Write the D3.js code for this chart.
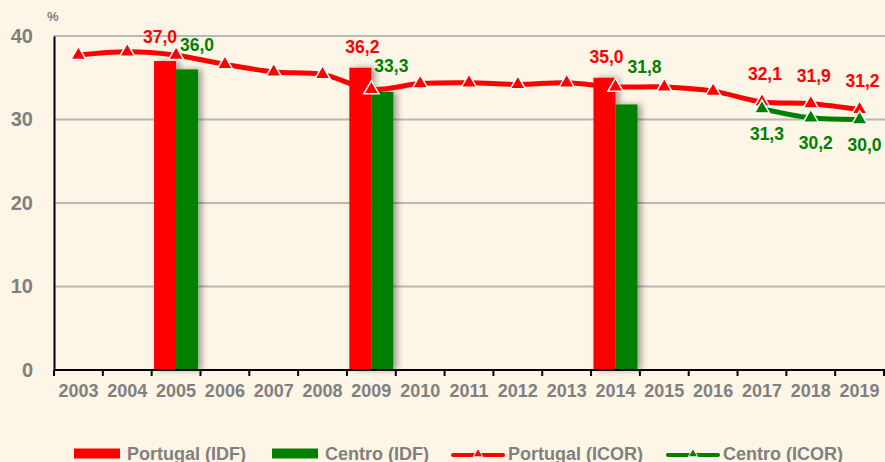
<!DOCTYPE html>
<html>
<head>
<meta charset="utf-8">
<script src="https://cdn.jsdelivr.net/npm/d3@7"></script>
<style>
  html, body { margin: 0; padding: 0; background: #fdf5e6; }
  svg { display: block; font-family: "Liberation Sans", Arial, sans-serif; font-weight: bold; }
</style>
</head>
<body>
<svg id="chart" width="885" height="462"></svg>
<script>
// Years on the horizontal axis
const years = ["2003","2004","2005","2006","2007","2008","2009","2010","2011",
               "2012","2013","2014","2015","2016","2017","2018","2019"];

// IDF survey (bars), only some years
const idfYears = ["2005", "2009", "2014"];
const idfPortugal = [37.0, 36.2, 35.0];
const idfCentro = [36.0, 33.3, 31.8];

// ICOR survey (lines)
const icorPortugal = [37.7, 38.1, 37.7, 36.6, 35.7, 35.4, 33.6, 34.3, 34.4,
                      34.2, 34.4, 33.9, 33.9, 33.4, 32.1, 31.9, 31.2];
const icorCentroYears = ["2017", "2018", "2019"];
const icorCentro = [31.3, 30.2, 30.0];

// Which ICOR points carry a value label
const labelledPortugalYears = ["2017", "2018", "2019"];

const yTicks = [0, 10, 20, 30, 40];

// Hand-placed nudges for the bar value labels so they clear the line
const ptLabelNudge = [[-5, -18], [2, -15], [2, -15]];
const ceLabelNudge = [[10, -18], [9, -20], [18, -31]];

const RED = "#ff0000", GREEN = "#008000", GREY = "#808080";

const svg = d3.select("#chart");
const margin = { left: 54, right: 1, top: 36, bottom: 92 };
const W = 885, H = 462;

const x = d3.scaleBand().domain(years).range([margin.left, W - margin.right]).padding(0);
const y = d3.scaleLinear().domain([0, 40]).range([H - margin.bottom, margin.top]);
const inner = d3.scaleBand().domain(["pt", "ce"]).range([0, x.bandwidth()])
  .paddingInner(0).paddingOuter(0.11);

const defs = svg.append("defs");
const shadow = defs.append("filter").attr("id", "barShadow")
  .attr("x", "-20%").attr("y", "-5%").attr("width", "160%").attr("height", "110%");
shadow.append("feDropShadow").attr("dx", 4).attr("dy", 0)
  .attr("stdDeviation", 3).attr("flood-color", "#000").attr("flood-opacity", 0.35);

// Horizontal grid lines
svg.append("g").selectAll("line")
  .data(yTicks.filter(d => d > 0)).join("line")
  .attr("x1", margin.left).attr("x2", W)
  .attr("y1", d => y(d)).attr("y2", d => y(d))
  .attr("stroke", "#b8b8b8").attr("stroke-width", 2);

// Bars
const idf = idfYears.map((yr, i) => ({ year: yr, pt: idfPortugal[i], ce: idfCentro[i], i }));
const barGroups = svg.append("g").selectAll("g").data(idf).join("g")
  .attr("filter", "url(#barShadow)");
barGroups.append("rect")
  .attr("x", d => x(d.year) + inner("pt")).attr("width", inner.bandwidth())
  .attr("y", d => y(d.pt)).attr("height", d => y(0) - y(d.pt))
  .attr("fill", RED);
barGroups.append("rect")
  .attr("x", d => x(d.year) + inner("ce")).attr("width", inner.bandwidth())
  .attr("y", d => y(d.ce)).attr("height", d => y(0) - y(d.ce))
  .attr("fill", GREEN);

// Y axis
const yAxis = svg.append("g").attr("transform", `translate(${margin.left},0)`)
  .call(d3.axisLeft(y).tickValues(yTicks).tickSize(0).tickPadding(21));
yAxis.select(".domain").attr("stroke", "#000").attr("stroke-width", 2);
yAxis.selectAll("text").attr("font-size", 20).attr("fill", GREY)
  .attr("font-family", "Liberation Sans, Arial, sans-serif").attr("font-weight", "bold");

svg.append("text").attr("x", 47).attr("y", 21).attr("font-size", 13)
  .attr("fill", GREY).text("%");

// X axis: labels centred in each band, ticks on the band edges
const xAxis = svg.append("g").attr("transform", `translate(0,${y(0)})`)
  .call(d3.axisBottom(x).tickSize(0).tickPadding(14));
xAxis.select(".domain").remove();
xAxis.selectAll("text").attr("font-size", 18).attr("fill", GREY)
  .attr("font-family", "Liberation Sans, Arial, sans-serif").attr("font-weight", "bold");
svg.append("line").attr("x1", margin.left).attr("x2", W)
  .attr("y1", y(0)).attr("y2", y(0)).attr("stroke", "#000").attr("stroke-width", 2);
svg.append("g").selectAll("line")
  .data(years.map(d => x(d)).concat([x(years[years.length - 1]) + x.bandwidth()]))
  .join("line")
  .attr("x1", d => d).attr("x2", d => d)
  .attr("y1", y(0)).attr("y2", y(0) + 6)
  .attr("stroke", "#000").attr("stroke-width", 2);

// Lines
const cx = yr => x(yr) + x.bandwidth() / 2;
const line = d3.line().x(d => cx(d.year)).y(d => y(d.v)).curve(d3.curveCatmullRom.alpha(0.5));
const tri = d3.symbol().type(d3.symbolTriangle).size(100);

function drawSeries(data, color) {
  const g = svg.append("g");
  g.append("path").datum(data).attr("d", line)
    .attr("fill", "none").attr("stroke", color).attr("stroke-width", 5)
    .attr("stroke-linejoin", "round");
  g.selectAll("path.mk").data(data).join("path").attr("class", "mk")
    .attr("d", tri)
    .attr("transform", d => `translate(${cx(d.year)},${y(d.v)})`)
    .attr("fill", color).attr("stroke", "#fff").attr("stroke-width", 1.5);
}
const ptSeries = years.map((yr, i) => ({ year: yr, v: icorPortugal[i] }));
const ceSeries = icorCentroYears.map((yr, i) => ({ year: yr, v: icorCentro[i] }));
drawSeries(ptSeries, RED);
drawSeries(ceSeries, GREEN);

// Value labels
const fmt = v => d3.format(".1f")(v).replace(".", ",");
const labels = svg.append("g").attr("font-size", 17.5).attr("text-anchor", "middle");
labels.selectAll("text.ip").data(idf).join("text").attr("class", "ip")
  .attr("x", d => x(d.year) + inner("pt") + inner.bandwidth() / 2 + ptLabelNudge[d.i][0])
  .attr("y", d => y(d.pt) + ptLabelNudge[d.i][1]).attr("fill", RED).text(d => fmt(d.pt));
labels.selectAll("text.ic").data(idf).join("text").attr("class", "ic")
  .attr("x", d => x(d.year) + inner("ce") + inner.bandwidth() / 2 + ceLabelNudge[d.i][0])
  .attr("y", d => y(d.ce) + ceLabelNudge[d.i][1]).attr("fill", GREEN).text(d => fmt(d.ce));
labels.selectAll("text.lp").data(ptSeries.filter(d => labelledPortugalYears.includes(d.year)))
  .join("text").attr("class", "lp")
  .attr("x", d => cx(d.year) + 3).attr("y", d => y(d.v) - 22)
  .attr("fill", RED).text(d => fmt(d.v));
labels.selectAll("text.lc").data(ceSeries).join("text").attr("class", "lc")
  .attr("x", d => cx(d.year) + 5).attr("y", d => y(d.v) + 31)
  .attr("fill", GREEN).text(d => fmt(d.v));

// Legend
const legend = svg.append("g").attr("font-size", 18).attr("fill", GREY);
const legendItems = [
  { name: "Portugal (IDF)", color: RED, kind: "bar", x: 74 },
  { name: "Centro (IDF)", color: GREEN, kind: "bar", x: 272 },
  { name: "Portugal (ICOR)", color: RED, kind: "line", x: 453 },
  { name: "Centro (ICOR)", color: GREEN, kind: "line", x: 668 }
];
const ly = 453.5;
legendItems.forEach(it => {
  const g = legend.append("g");
  if (it.kind === "bar") {
    g.append("rect").attr("x", it.x).attr("y", ly - 5).attr("width", 46).attr("height", 10)
      .attr("fill", it.color);
    g.append("text").attr("x", it.x + 53).attr("y", ly + 6).text(it.name);
  } else {
    g.append("line").attr("x1", it.x).attr("x2", it.x + 50).attr("y1", ly + 1.5).attr("y2", ly + 1.5)
      .attr("stroke", it.color).attr("stroke-width", 4).attr("stroke-linecap", "round");
    g.append("path").attr("d", d3.symbol().type(d3.symbolTriangle).size(40))
      .attr("transform", `translate(${it.x + 25},${ly + 0.5})`)
      .attr("fill", it.color).attr("stroke", "#fff").attr("stroke-width", 1);
    g.append("text").attr("x", it.x + 55).attr("y", ly + 6).text(it.name);
  }
});
</script>
</body>
</html>
